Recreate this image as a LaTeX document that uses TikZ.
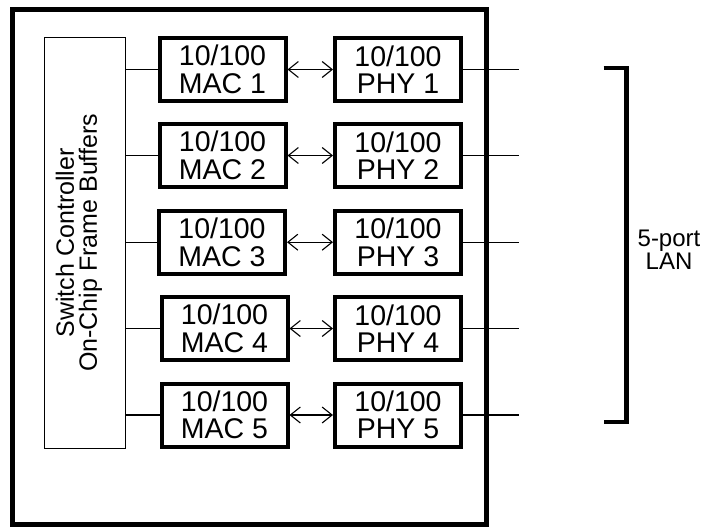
\documentclass[tikz,border=0pt]{standalone}
\usepackage{fontspec}
\setmainfont{Liberation Sans}
\usetikzlibrary{arrows.meta}
\begin{document}
\begin{tikzpicture}[x=1pt,y=-1pt,
  blockbox/.style={draw=black,line width=4pt,minimum width=126pt,minimum height=63pt,inner sep=0pt,align=center,font=\fontsize{28.5}{27.5}\selectfont},
  thinline/.style={draw=black,line width=1.1pt},
  biarrow/.style={thinline,{Straight Barb[length=10pt,width=16pt]}-{Straight Barb[length=10pt,width=16pt]}}
]
\useasboundingbox (0,0) rectangle (704,527);
% outer chip
\draw[line width=5pt] (12.5,9.5) rectangle (486,524);
% switch controller
\node[draw=black,line width=1pt,minimum width=81.4pt,minimum height=411pt,inner sep=0pt] (sw) at (85,242.8) {};
\node[rotate=90,align=center,font=\fontsize{25}{23}\selectfont] (swt) at (79,242.8) {Switch Controller\\On-Chip Frame Buffers};
% rows
\foreach \i/\y/\mx in {1/69.5/222.5,2/155.5/222.5,3/242.2/222,4/328.5/224.5,5/415/224.5}{
  \node[blockbox] (mac\i) at (\mx,\y) {10/100\\MAC \i};
  \node[blockbox] (phy\i) at (398,\y) {10/100\\PHY \i};
  \coordinate (port\i) at (519,\y);
  \draw[thinline] (sw.east |- mac\i.west) -- (mac\i.west);
  \draw[biarrow] (mac\i.east) -- (phy\i.west);
  \draw[thinline] (phy\i.east) -- (port\i);
}
% bracket
\coordinate (bt) at (603.5,68);
\coordinate (bb) at (603.5,422);
\draw[line width=4.5pt] (bt) -- (626.3,68) -- (626.3,422) -- (bb);
\node[align=center,font=\fontsize{24}{23}\selectfont] (lan) at (669,250) {5-port\\LAN};
\end{tikzpicture}
\end{document}
